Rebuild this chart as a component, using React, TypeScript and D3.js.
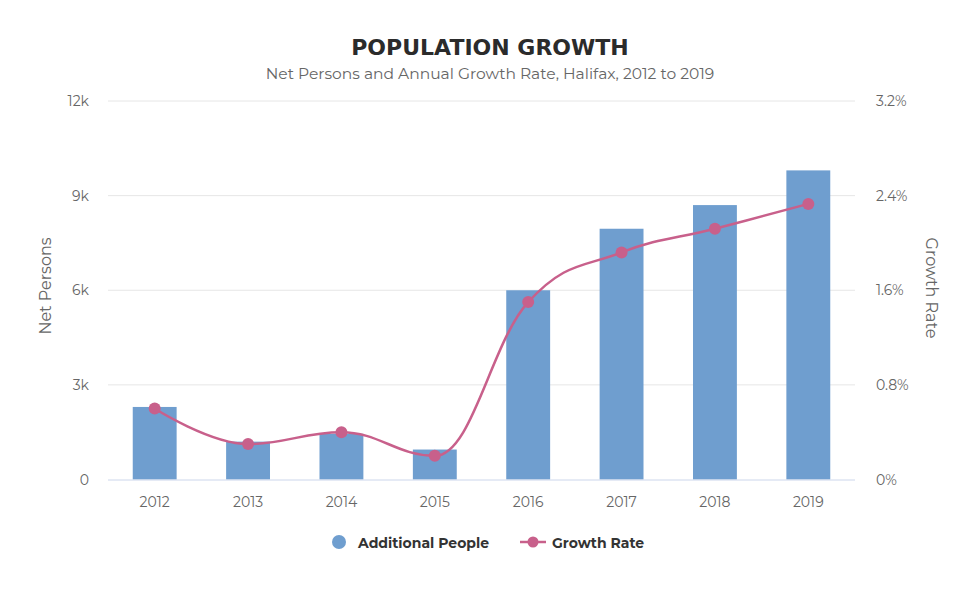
import React from "react";
import * as d3 from "d3";

const years = ["2012", "2013", "2014", "2015", "2016", "2017", "2018", "2019"];
const additionalPeople = [2300, 1200, 1450, 950, 6000, 7950, 8700, 9800];
const growthRate = [0.6, 0.3, 0.4, 0.2, 1.5, 1.92, 2.12, 2.33];
const leftTicks = [0, 3000, 6000, 9000, 12000];
const rightTicks = [0, 0.8, 1.6, 2.4, 3.2];

const W = 960;
const H = 597;
const BAR = "#6f9ecf";
const LINE = "#c8608b";

// Highcharts-like spline as a d3 curve
function splineCurve(context: any) {
  let pts: [number, number][] = [];
  return {
    areaStart() {},
    areaEnd() {},
    lineStart() {
      pts = [];
    },
    point(x: number, y: number) {
      pts.push([+x, +y]);
    },
    lineEnd() {
      if (!pts.length) return;
      const smoothing = 1.5;
      const denom = smoothing + 1;
      const rc: (null | [number, number])[] = pts.map(() => null);
      const lc: (null | [number, number])[] = pts.map(() => null);
      for (let i = 1; i < pts.length - 1; i++) {
        const [px, py] = pts[i];
        const [lx, ly] = pts[i - 1];
        const [nx, ny] = pts[i + 1];
        const lcx = (smoothing * px + lx) / denom;
        let lcy = (smoothing * py + ly) / denom;
        const rcx = (smoothing * px + nx) / denom;
        let rcy = (smoothing * py + ny) / denom;
        let corr = 0;
        if (rcx !== lcx) corr = ((rcy - lcy) * (rcx - px)) / (rcx - lcx) + py - rcy;
        lcy += corr;
        rcy += corr;
        if (lcy > ly && lcy > py) {
          lcy = Math.max(ly, py);
          rcy = 2 * py - lcy;
        } else if (lcy < ly && lcy < py) {
          lcy = Math.min(ly, py);
          rcy = 2 * py - lcy;
        }
        if (rcy > ny && rcy > py) {
          rcy = Math.max(ny, py);
          lcy = 2 * py - rcy;
        } else if (rcy < ny && rcy < py) {
          rcy = Math.min(ny, py);
          lcy = 2 * py - rcy;
        }
        lc[i] = [lcx, lcy];
        rc[i] = [rcx, rcy];
      }
      context.moveTo(pts[0][0], pts[0][1]);
      for (let i = 1; i < pts.length; i++) {
        const a = rc[i - 1] || pts[i - 1];
        const b = lc[i] || pts[i];
        context.bezierCurveTo(a[0], a[1], b[0], b[1], pts[i][0], pts[i][1]);
      }
    },
  };
}

export default function App() {
  const plotLeft = 108;
  const plotRight = 855;
  const plotTop = 101;
  const plotBottom = 479.5;

  const x = d3
    .scaleBand<string>()
    .domain(years)
    .range([plotLeft, plotRight])
    .paddingInner(0.53)
    .paddingOuter(0.265);
  const yL = d3.scaleLinear().domain([0, 12000]).range([plotBottom, plotTop]);
  const yR = d3.scaleLinear().domain([0, 3.2]).range([plotBottom, plotTop]);

  const cx = (d: string) => (x(d) as number) + x.bandwidth() / 2;
  const linePath = d3
    .line<number>()
    .x((_, i) => cx(years[i]))
    .y((d) => yR(d))
    .curve(splineCurve as any)(growthRate) as string;

  const fmtL = (v: number) => (v === 0 ? "0" : `${v / 1000}k`);
  const fmtR = (v: number) => `${v}%`;

  const font = "Montserrat, 'Open Sans', 'DejaVu Sans', sans-serif";

  return (
    <svg
      width={W}
      height={H}
      style={{ position: "absolute", left: 0, top: 0, background: "#fff" }}
      fontFamily={font}
    >
      <rect width={W} height={H} fill="#fff" />
      <text
        x={490}
        y={55}
        textAnchor="middle"
        fontSize={22}
        fontWeight={800}
        fill="#2b2b2b"
        fontFamily="'DejaVu Sans', sans-serif"
      >
        POPULATION GROWTH
      </text>
      <text x={490} y={79} textAnchor="middle" fontSize={15.5} fill="#666">
        Net Persons and Annual Growth Rate, Halifax, 2012 to 2019
      </text>

      {leftTicks.slice(1).map((t) => (
        <line
          key={t}
          x1={plotLeft}
          x2={plotRight}
          y1={yL(t)}
          y2={yL(t)}
          stroke="#e6e6e6"
          strokeWidth={1}
        />
      ))}

      {additionalPeople.map((v, i) => (
        <rect
          key={years[i]}
          x={x(years[i])}
          y={yL(v)}
          width={x.bandwidth()}
          height={plotBottom - yL(v)}
          fill={BAR}
        />
      ))}

      <line
        x1={plotLeft}
        x2={plotRight}
        y1={plotBottom + 0.5}
        y2={plotBottom + 0.5}
        stroke="#ccd6eb"
        strokeWidth={1}
      />

      <path d={linePath} fill="none" stroke={LINE} strokeWidth={2.5} />
      {growthRate.map((v, i) => (
        <circle key={years[i]} cx={cx(years[i])} cy={yR(v)} r={6} fill={LINE} />
      ))}

      {leftTicks.map((t) => (
        <text
          key={t}
          x={89}
          y={yL(t) + 5}
          textAnchor="end"
          fontSize={14}
          fill="#666"
        >
          {fmtL(t)}
        </text>
      ))}
      {rightTicks.map((t) => (
        <text key={t} x={876} y={yR(t) + 5} textAnchor="start" fontSize={14} fill="#666">
          {fmtR(t)}
        </text>
      ))}
      {years.map((y) => (
        <text key={y} x={cx(y)} y={507} textAnchor="middle" fontSize={14} fill="#666">
          {y}
        </text>
      ))}

      <text
        transform={`translate(51, 286) rotate(-90)`}
        textAnchor="middle"
        fontSize={16}
        fill="#666"
      >
        Net Persons
      </text>
      <text
        transform={`translate(926, 288) rotate(90)`}
        textAnchor="middle"
        fontSize={16}
        fill="#666"
      >
        Growth Rate
      </text>

      <circle cx={339} cy={542} r={7} fill={BAR} />
      <text x={358} y={548} fontSize={14} fontWeight={700} fill="#333">
        Additional People
      </text>
      <line x1={520} x2={546} y1={542} y2={542} stroke={LINE} strokeWidth={2.5} />
      <circle cx={533} cy={542} r={5.5} fill={LINE} />
      <text x={552} y={548} fontSize={14} fontWeight={700} fill="#333">
        Growth Rate
      </text>
    </svg>
  );
}
